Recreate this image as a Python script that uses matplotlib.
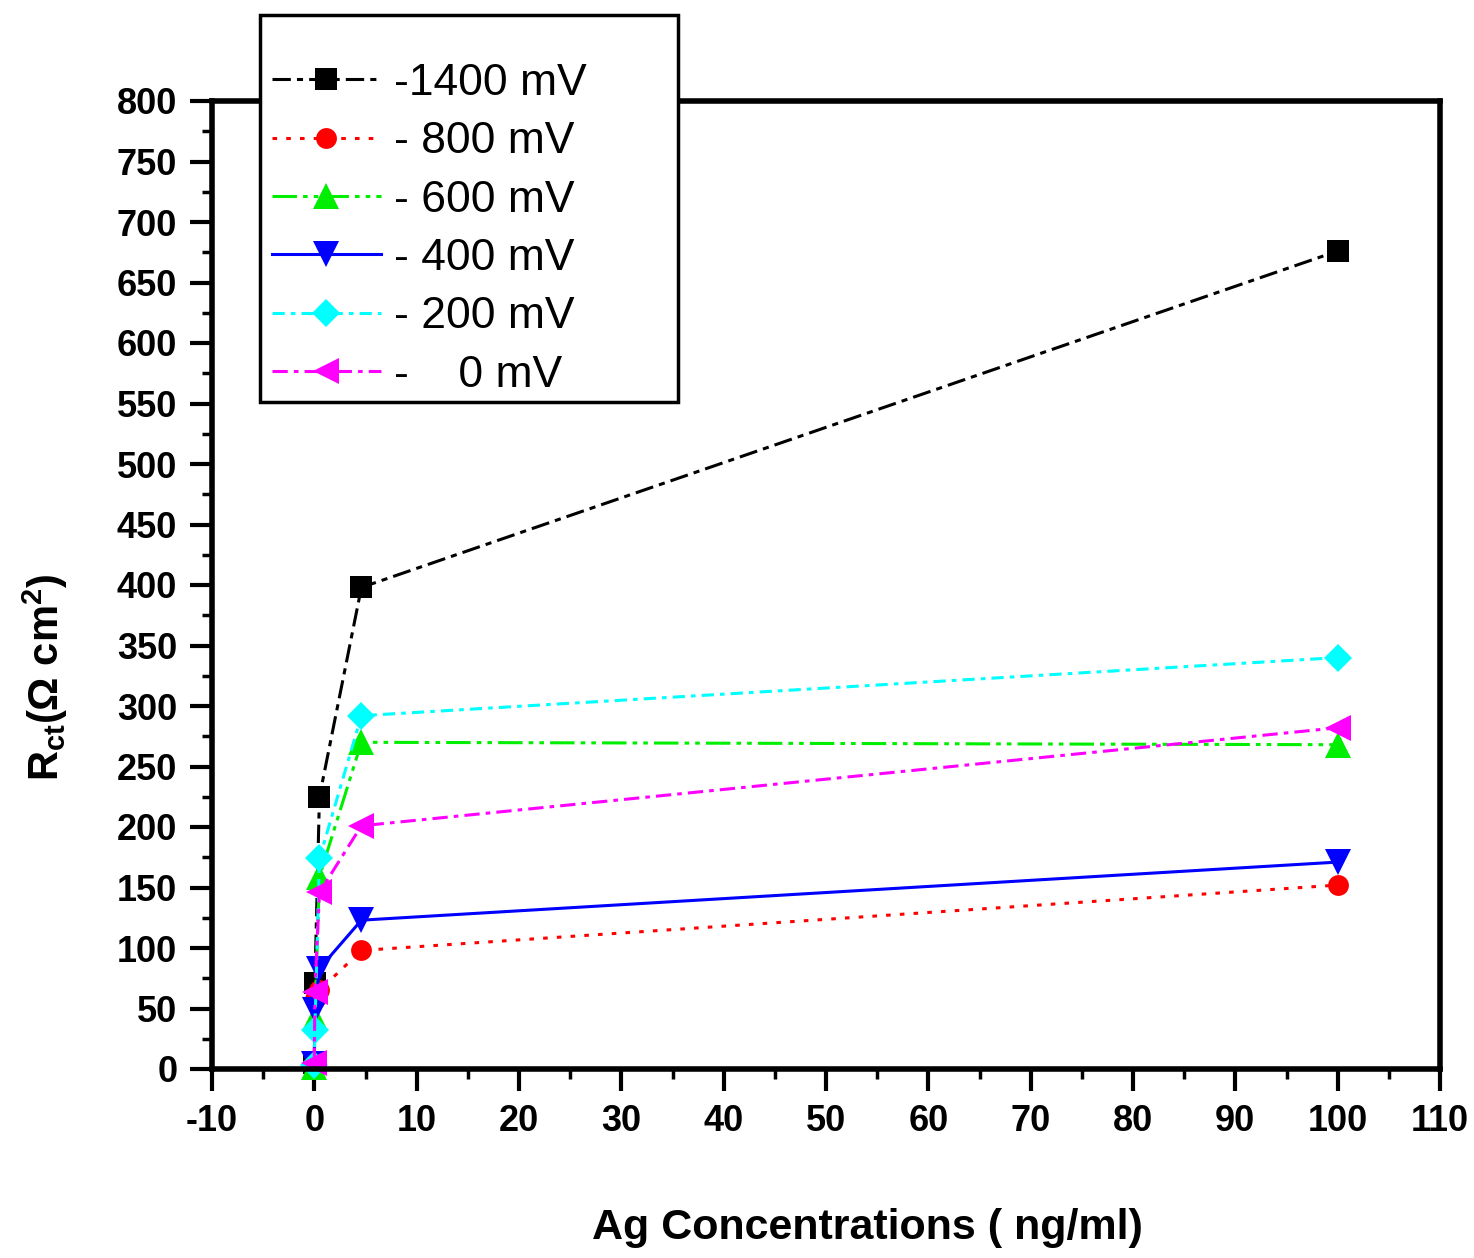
import matplotlib
matplotlib.use('Agg')
import matplotlib.pyplot as plt
from matplotlib.patches import Rectangle
from matplotlib.ticker import MultipleLocator

# ---- data ----
conc = [0, 0.05, 0.5, 4.6, 100]
rct_1400 = [5, 71, 225, 398, 676]
rct_800 = [3, 58, 65, 98, 152]
rct_600 = [2, 42, 159, 270, 268]
rct_400 = [4, 49, 83, 123, 171]
rct_200 = [3, 32, 174, 292, 340]
rct_0 = [5, 64, 146, 201, 282]
series_labels = ['-1400 mV', '- 800 mV', '- 600 mV', '- 400 mV', '- 200 mV', '-    0 mV']
x_label = 'Ag Concentrations ( ng/ml)'
y_label = r'$R_{ct}$($\Omega$ cm$^{2}$)'

plt.rcParams['font.family'] = ['Liberation Sans', 'DejaVu Sans']
plt.rcParams['axes.unicode_minus'] = False
plt.rcParams['mathtext.fontset'] = 'custom'
plt.rcParams['mathtext.rm'] = 'Liberation Sans:bold'
plt.rcParams['mathtext.it'] = 'Liberation Sans:bold'
plt.rcParams['mathtext.bf'] = 'Liberation Sans:bold'

W, H = 1474, 1258
fig = plt.figure(figsize=(W / 100, H / 100), dpi=100)
L, R, T, B = 212, 1440, 101, 1069
ax = fig.add_axes([L / W, 1 - B / H, (R - L) / W, (B - T) / H])

styles = [
    dict(color='black', marker='s', ms=16, ls=(0, (6, 2, 2, 2))),
    dict(color='#ff0000', marker='o', ms=15, ls=(0, (1.5, 3))),
    dict(color='#00ee00', marker='^', ms=19, ls=(0, (8, 2, 1.5, 2, 1.5, 2))),
    dict(color='#0000ff', marker='v', ms=19, ls='-'),
    dict(color='#00ffff', marker='D', ms=14, ls=(0, (4, 2, 1.5, 2))),
    dict(color='#ff00ff', marker='<', ms=19, ls=(0, (5, 2, 1.5, 2))),
]
data = [rct_1400, rct_800, rct_600, rct_400, rct_200, rct_0]
handles = []
for y, st, lab in zip(data, styles, series_labels):
    h, = ax.plot(conc, y, color=st['color'], marker=st['marker'], markersize=st['ms'],
                 linestyle=st['ls'], linewidth=2.2, markeredgewidth=0, label=lab,
                 clip_on=False)
    handles.append(h)

ax.set_xlim(-10, 110)
ax.set_ylim(0, 800)
ax.xaxis.set_major_locator(MultipleLocator(10))
ax.xaxis.set_minor_locator(MultipleLocator(5))
ax.yaxis.set_major_locator(MultipleLocator(50))
ax.yaxis.set_minor_locator(MultipleLocator(25))
ax.tick_params(which='major', direction='out', length=16, width=3, pad=9,
               labelsize=26)
ax.tick_params(which='minor', direction='out', length=7, width=2.5)
for lab in ax.get_xticklabels() + ax.get_yticklabels():
    lab.set_fontweight('bold')
for sp in ax.spines.values():
    sp.set_linewidth(4)

fig.text(867 / W, 1 - 1228 / H, x_label, ha='center', va='center',
         fontsize=31, fontweight='bold')
fig.text(45 / W, 1 - 677 / H, y_label, ha='center', va='center',
         rotation=90, fontsize=30, fontweight='bold')

# legend box
box = Rectangle((260 / W, 1 - 402 / H), (678 - 260) / W, (402 - 15) / H,
                transform=fig.transFigure, facecolor='white', edgecolor='black',
                linewidth=2.5, zorder=1)
fig.patches.append(box)
leg = fig.legend(handles=handles, labels=series_labels, loc='upper left',
                 bbox_to_anchor=(272 / W, 1 - 63 / H), bbox_transform=fig.transFigure,
                 frameon=False, borderpad=0, borderaxespad=0, fontsize=32,
                 handlelength=2.45, handletextpad=0.3, labelspacing=0.39)
leg.set_zorder(5)

fig.savefig('out.png', dpi=100)
